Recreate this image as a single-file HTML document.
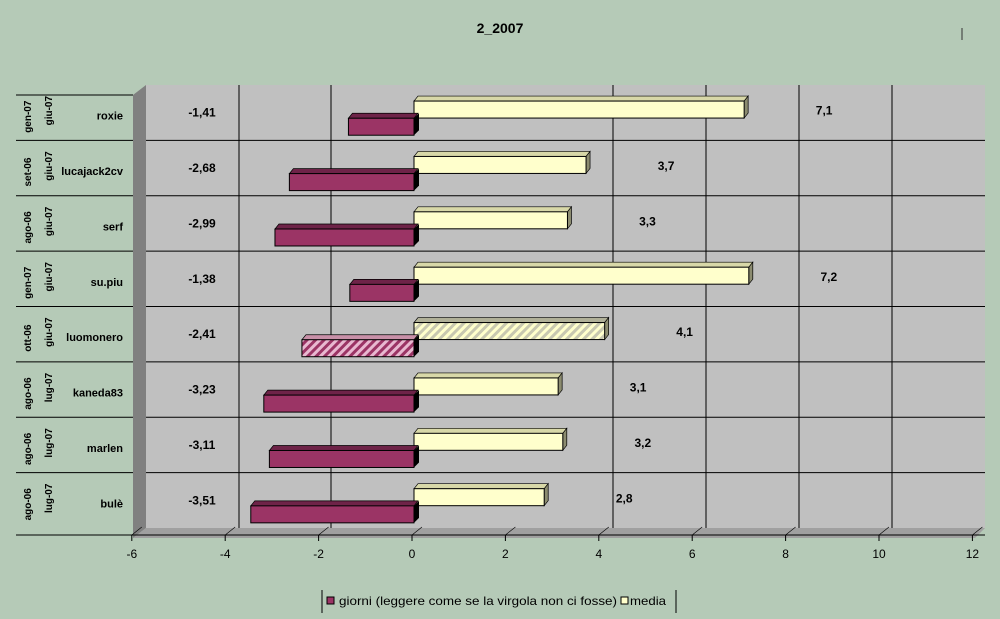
<!DOCTYPE html>
<html><head><meta charset="utf-8"><style>
body{margin:0;background:#b5cab7;}
svg{display:block;font-family:"Liberation Sans",Arial,sans-serif;}
</style></head><body>
<svg id="c" width="1000" height="619" viewBox="0 0 1000 619">
<defs>
<pattern id="hp" width="6" height="6" patternUnits="userSpaceOnUse" patternTransform="rotate(45)"><rect width="6" height="6" fill="#e8b8d0"/><rect width="3" height="6" fill="#9b3465"/></pattern>
<pattern id="hy" width="6" height="6" patternUnits="userSpaceOnUse" patternTransform="rotate(45)"><rect width="6" height="6" fill="#c8c8b0"/><rect width="3" height="6" fill="#ffffcc"/></pattern>
</defs>
<rect x="0" y="0" width="1000" height="619" fill="#b5cab7"/>
<text x="500" y="33" text-anchor="middle" font-size="14" font-weight="bold">2_2007</text>
<line x1="962" y1="28" x2="962" y2="40" stroke="#333"/>
<polygon points="133,95 146,85 146,528 133,538" fill="#808080"/>
<polygon points="133,538 146,528 985,528 975,538" fill="#a0a0a0"/>
<rect x="146" y="85" width="839" height="443" fill="#c0c0c0"/>
<g id="grid"></g>
<g id="rows"></g>
<line x1="16" y1="535" x2="985" y2="535" stroke="#000"/>
<g id="xt"></g>
<g>
<line x1="322" y1="590" x2="322" y2="613" stroke="#000"/>
<line x1="676" y1="590" x2="676" y2="613" stroke="#000"/>
<rect x="327" y="597" width="7" height="7" fill="#9b3465" stroke="#000"/>
<text x="339" y="605" font-size="12" textLength="278" lengthAdjust="spacingAndGlyphs">giorni (leggere come se la virgola non ci fosse)</text>
<rect x="621" y="597" width="7" height="7" fill="#ffffcc" stroke="#000"/>
<text x="630" y="605" font-size="12" textLength="36" lengthAdjust="spacingAndGlyphs">media</text>
</g>
</svg>
<script>
const names=["roxie","lucajack2cv","serf","su.piu","luomonero","kaneda83","marlen","bulè"];
const dateA=["gen-07","set-06","ago-06","gen-07","ott-06","ago-06","ago-06","ago-06"];
const dateB=["giu-07","giu-07","giu-07","giu-07","giu-07","lug-07","lug-07","lug-07"];
const giorni=[-1.41,-2.68,-2.99,-1.38,-2.41,-3.23,-3.11,-3.51];
const media=[7.1,3.7,3.3,7.2,4.1,3.1,3.2,2.8];
const xTicks=[-6,-4,-2,0,2,4,6,8,10,12];
const gridVals=[-4,-2,4,6,8,10];
const NS="http://www.w3.org/2000/svg";
const svg=document.getElementById('c');
function X(v){return 414+v*46.5;}
function XT(v){return 412+v*46.7;}
const top0=85,rowH=(528-85)/names.length;
function Y(i){return top0+i*rowH;}
function el(t,a,p){const e=document.createElementNS(NS,t);for(const k in a)e.setAttribute(k,a[k]);(p||svg).appendChild(e);return e;}
function fmt(v){return String(v).replace('.',',');}
const grid=document.getElementById('grid'),rows=document.getElementById('rows'),xt=document.getElementById('xt');
const gx={"-4":239,"-2":331,"4":613,"6":706,"8":799,"10":892};
gridVals.forEach(v=>{
  const l=el('line',{x1:gx[v],y1:85,x2:gx[v],y2:528,stroke:'#000','stroke-width':1},grid);
  
  
});
names.forEach((n,i)=>{
  const y=Y(i);
  const g=el('g',{},rows);
  
  
  el('line',{x1:16,y1:y+rowH+ (i==names.length-1?7:0),x2:133,y2:y+rowH+(i==names.length-1?7:0),stroke:'#000'},g);
  if(i<names.length-1) el('line',{x1:146,y1:y+rowH,x2:985,y2:y+rowH,stroke:'#000'},g);
  if(i==0) el('line',{x1:16,y1:y+10,x2:133,y2:y+10,stroke:'#000'},g);
  const cy=y+rowH/2+4;
  const ta=el('text',{x:0,y:0,'font-size':10,'font-weight':'bold','text-anchor':'middle',transform:`translate(${31},${cy}) rotate(-90)`},g);
  ta.textContent=dateA[i];
  
  
  const tb=el('text',{x:0,y:0,'font-size':10,'font-weight':'bold','text-anchor':'middle',transform:`translate(${52},${cy-6}) rotate(-90)`},g);
  tb.textContent=dateB[i];
  
  
  const tn=el('text',{x:123,y:cy+3,'font-size':11,'font-weight':'bold','text-anchor':'end'},g);
  tn.textContent=n;
  
  
  const hatch=(n==="luomonero");
  const m0=X(0),m1=X(media[i]),my=y+rowH*0.29,bh=17,d=5;
  el('polygon',{points:`${m0},${my} ${m0+4},${my-d} ${m1+4},${my-d} ${m1},${my}`,fill:hatch?'#b0b098':'#d8d8a8',stroke:'#000','stroke-width':0.7},g);
  el('polygon',{points:`${m1},${my} ${m1+4},${my-d} ${m1+4},${my+bh-d} ${m1},${my+bh}`,fill:'#8c8c70',stroke:'#000','stroke-width':0.7},g);
  const mb=el('rect',{x:m0,y:my,width:m1-m0,height:bh,fill:hatch?'url(#hy)':'#ffffcc',stroke:'#000','stroke-width':1},g);
  
  
  const g1=X(giorni[i]),gy=y+rowH*0.6;
  el('polygon',{points:`${g1},${gy} ${g1+4},${gy-d} ${m0+4},${gy-d} ${m0},${gy}`,fill:hatch?'#c890a8':'#6e2348',stroke:'#000','stroke-width':0.7},g);
  el('polygon',{points:`${m0},${gy} ${m0+5},${gy-d} ${m0+5},${gy+bh-d} ${m0},${gy+bh}`,fill:'#000'},g);
  const gb=el('rect',{x:g1,y:gy,width:m0-g1,height:bh,fill:hatch?'url(#hp)':'#9b3465',stroke:'#000','stroke-width':1},g);
  
  
  const lg=el('text',{x:202,y:y+rowH*0.5+4,'font-size':12,'font-weight':'bold','text-anchor':'middle'},g);
  lg.textContent=fmt(giorni[i]);
  
  
  const lm=el('text',{x:m1+80,y:y+rowH*0.5+2,'font-size':12,'font-weight':'bold','text-anchor':'middle'},g);
  lm.textContent=fmt(media[i]);
  
  
});
xTicks.forEach(v=>{
  const x=XT(v);
  const l=el('line',{x1:x,y1:535,x2:x,y2:541,stroke:'#000'},xt);
  
  
  el('line',{x1:x,y1:535,x2:x+10,y2:527,stroke:'#000','stroke-width':0.6},xt);
  const t=el('text',{x:x,y:558,'font-size':12,'text-anchor':'middle'},xt);
  t.textContent=v;
  
  
});
</script>
</body></html>
